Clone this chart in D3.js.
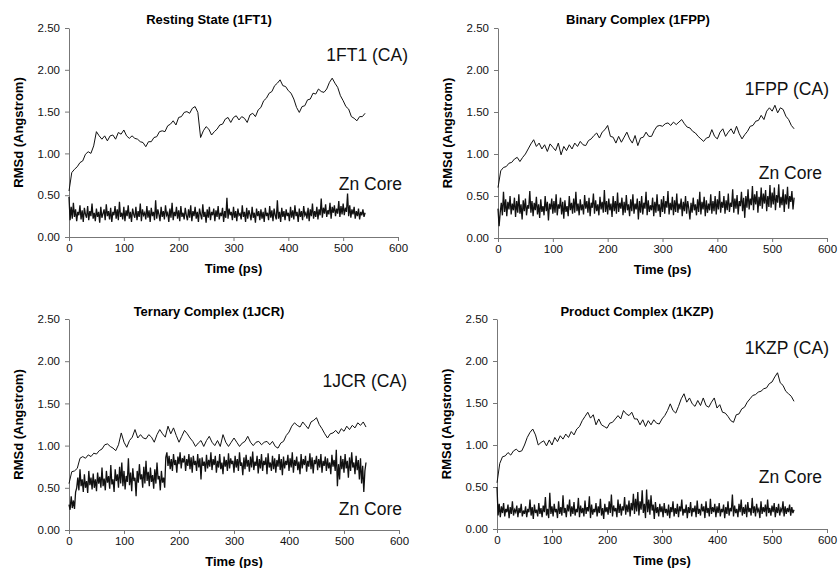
<!DOCTYPE html>
<html>
<head>
<meta charset="utf-8">
<script src="https://cdn.jsdelivr.net/npm/d3@7"></script>
<style>
  body { margin: 0; background: #fff; }
  svg { display: block; }
  text { font-family: Arial, "Liberation Sans", sans-serif; fill: #000; }
  .axis path, .axis line { stroke: #777; }
  .axis text { font-size: 11.5px; fill: #111; }
  .title, .axlabel { font-size: 13px; font-weight: bold; }
  .tag { font-size: 17.5px; fill: #111; }
</style>
</head>
<body>
<div id="chart"></div>
<script>
// ---- data (RMSd in Angstrom) ----
const yTicks = [0, 0.5, 1.0, 1.5, 2.0, 2.5];
const xTicks = [0, 100, 200, 300, 400, 500, 600];
const panelTitles = ["Resting State (1FT1)", "Binary Complex (1FPP)", "Ternary Complex (1JCR)", "Product Complex (1KZP)"];
const caLabels = ["1FT1 (CA)", "1FPP (CA)", "1JCR (CA)", "1KZP (CA)"];
const znLabel = "Zn Core";

const caStep = 5;   // ps between CA samples (0..540)
const znStep = 2;   // ps between Zn core samples (0..540)

// one row = 50 ps
const ca1FT1 = [
  0.55, 0.77, 0.81, 0.84, 0.89, 0.91, 0.99, 1.02, 1.0, 1.09,
  1.26, 1.21, 1.17, 1.21, 1.15, 1.21, 1.22, 1.17, 1.25, 1.23,
  1.28, 1.21, 1.18, 1.21, 1.18, 1.17, 1.14, 1.13, 1.08, 1.14,
  1.14, 1.19, 1.2, 1.26, 1.27, 1.26, 1.33, 1.35, 1.39, 1.34,
  1.43, 1.44, 1.49, 1.5, 1.48, 1.54, 1.56, 1.49, 1.19, 1.27,
  1.32, 1.29, 1.22, 1.26, 1.29, 1.34, 1.35, 1.41, 1.43, 1.37,
  1.43, 1.45, 1.4, 1.44, 1.42, 1.37, 1.46, 1.48, 1.44, 1.52,
  1.55, 1.63, 1.66, 1.72, 1.74, 1.81, 1.84, 1.88, 1.81, 1.8,
  1.75, 1.72, 1.65, 1.55, 1.49, 1.56, 1.57, 1.64, 1.65, 1.72,
  1.71, 1.77, 1.74, 1.73, 1.77, 1.85, 1.9, 1.84, 1.79, 1.69,
  1.63, 1.56, 1.53, 1.44, 1.42, 1.39, 1.44, 1.44, 1.48];
const ca1FPP = [
  0.6, 0.8, 0.84, 0.85, 0.89, 0.9, 0.94, 0.96, 0.91, 0.96,
  1.0, 1.06, 1.12, 1.17, 1.09, 1.13, 1.06, 1.11, 1.03, 1.12,
  1.08, 1.04, 1.13, 0.99, 1.09, 1.04, 1.11, 1.06, 1.13, 1.09,
  1.15, 1.11, 1.1, 1.16, 1.18, 1.22, 1.25, 1.19, 1.26, 1.29,
  1.34, 1.21, 1.2, 1.13, 1.21, 1.14, 1.2, 1.26, 1.18, 1.13,
  1.22, 1.1, 1.19, 1.2, 1.26, 1.21, 1.21, 1.28, 1.33, 1.34,
  1.33, 1.36, 1.37, 1.34, 1.38, 1.35, 1.38, 1.41, 1.36, 1.32,
  1.31, 1.27, 1.25, 1.21, 1.18, 1.15, 1.19, 1.2, 1.29, 1.21,
  1.18, 1.26, 1.3, 1.21, 1.26, 1.3, 1.24, 1.33, 1.24, 1.18,
  1.23, 1.27, 1.33, 1.34, 1.39, 1.4, 1.46, 1.41, 1.51, 1.55,
  1.51, 1.58, 1.49, 1.55, 1.53, 1.45, 1.41, 1.34, 1.3];
const ca1JCR = [
  0.55, 0.69, 0.7, 0.73, 0.85, 0.87, 0.85, 0.89, 0.87, 0.91,
  0.9, 0.94, 0.96, 1.01, 1.02, 0.99, 0.97, 0.94, 1.01, 1.15,
  1.04, 0.98, 1.06, 1.1, 1.19, 1.09, 1.13, 1.09, 1.08, 1.13,
  1.1, 1.04, 1.13, 1.19, 1.14, 1.1, 1.23, 1.14, 1.21, 1.12,
  1.04, 1.11, 1.18, 1.14, 1.09, 1.05, 0.99, 1.03, 1.06, 0.99,
  1.06, 1.11, 1.04, 1.0, 1.06, 0.99, 1.13, 1.04, 0.99, 1.04,
  1.09, 1.04, 0.99, 1.03, 1.05, 1.11, 1.04, 1.0, 1.04, 1.05,
  1.01, 1.04, 1.05, 1.01, 1.05, 0.99, 0.97, 1.03, 1.05, 1.12,
  1.16, 1.23, 1.27, 1.24, 1.22, 1.28, 1.24, 1.2, 1.28, 1.3,
  1.33, 1.25, 1.2, 1.14, 1.09, 1.14, 1.15, 1.18, 1.14, 1.2,
  1.17, 1.23, 1.19, 1.24, 1.21, 1.27, 1.24, 1.28, 1.22];
const ca1KZP = [
  0.55, 0.78, 0.86, 0.87, 0.91, 0.88, 0.93, 0.95, 0.92, 0.93,
  1.0, 1.09, 1.15, 1.19, 1.12, 1.0, 1.03, 1.05, 0.99, 1.06,
  1.0, 1.09, 1.04, 1.11, 1.07, 1.13, 1.09, 1.16, 1.12, 1.19,
  1.22, 1.29, 1.34, 1.39, 1.32, 1.36, 1.24, 1.31, 1.24, 1.22,
  1.2, 1.26, 1.27, 1.31, 1.35, 1.31, 1.41, 1.37, 1.35, 1.39,
  1.31, 1.31, 1.24, 1.3, 1.22, 1.29, 1.24, 1.3, 1.26, 1.25,
  1.31, 1.35, 1.41, 1.49, 1.41, 1.38, 1.46, 1.55, 1.61, 1.51,
  1.56, 1.49, 1.46, 1.53, 1.47, 1.56, 1.47, 1.45, 1.51, 1.56,
  1.44, 1.48, 1.39, 1.38, 1.34, 1.29, 1.27, 1.36, 1.37, 1.43,
  1.45, 1.51, 1.55, 1.59, 1.6, 1.63, 1.64, 1.67, 1.68, 1.73,
  1.75, 1.81, 1.86, 1.74, 1.71, 1.64, 1.61, 1.58, 1.52];

const zn1FT1 = [
  0.48, 0.2, 0.36, 0.22, 0.41, 0.24, 0.33, 0.19, 0.3, 0.26, 0.38, 0.21, 0.32, 0.18, 0.35, 0.27, 0.23, 0.37, 0.2, 0.31, 0.25, 0.4, 0.22, 0.29, 0.19,
  0.34, 0.24, 0.3, 0.17, 0.36, 0.23, 0.28, 0.33, 0.2, 0.39, 0.25, 0.31, 0.21, 0.35, 0.18, 0.3, 0.26, 0.37, 0.22, 0.33, 0.2, 0.42, 0.24, 0.29, 0.21,
  0.36, 0.19, 0.32, 0.25, 0.38, 0.22, 0.3, 0.18, 0.34, 0.27, 0.23, 0.36, 0.2, 0.31, 0.24, 0.4, 0.19, 0.33, 0.26, 0.29, 0.21, 0.37, 0.23, 0.32, 0.18,
  0.35, 0.25, 0.3, 0.2, 0.44, 0.22, 0.33, 0.27, 0.19, 0.36, 0.24, 0.31, 0.21, 0.38, 0.26, 0.29, 0.18, 0.34, 0.23, 0.41, 0.2, 0.3, 0.25, 0.36, 0.22,
  0.32, 0.19, 0.37, 0.24, 0.29, 0.21, 0.35, 0.26, 0.2, 0.33, 0.23, 0.38, 0.19, 0.31, 0.25, 0.36, 0.22, 0.3, 0.18, 0.34, 0.27, 0.21, 0.39, 0.24, 0.3,
  0.17, 0.33, 0.23, 0.36, 0.2, 0.3, 0.26, 0.34, 0.19, 0.32, 0.24, 0.37, 0.21, 0.29, 0.25, 0.35, 0.18, 0.31, 0.23, 0.47, 0.22, 0.34, 0.26, 0.3, 0.2,
  0.36, 0.23, 0.31, 0.19, 0.34, 0.26, 0.28, 0.21, 0.38, 0.24, 0.3, 0.18, 0.35, 0.22, 0.32, 0.27, 0.2, 0.36, 0.23, 0.29, 0.17, 0.34, 0.25, 0.31, 0.2,
  0.33, 0.22, 0.3, 0.18, 0.35, 0.25, 0.29, 0.2, 0.37, 0.23, 0.32, 0.19, 0.34, 0.26, 0.21, 0.44, 0.22, 0.3, 0.18, 0.35, 0.24, 0.31, 0.2, 0.33, 0.25,
  0.29, 0.19, 0.36, 0.23, 0.32, 0.21, 0.38, 0.25, 0.3, 0.18, 0.34, 0.24, 0.31, 0.2, 0.37, 0.26, 0.29, 0.22, 0.35, 0.19, 0.33, 0.25, 0.4, 0.22, 0.31,
  0.24, 0.36, 0.21, 0.33, 0.26, 0.46, 0.23, 0.35, 0.28, 0.39, 0.24, 0.32, 0.27, 0.41, 0.22, 0.36, 0.29, 0.38, 0.25, 0.34, 0.28, 0.43, 0.24, 0.37, 0.27,
  0.4, 0.26, 0.35, 0.3, 0.52, 0.25, 0.38, 0.23, 0.33, 0.27, 0.36, 0.22, 0.31, 0.25, 0.34, 0.21, 0.3, 0.26, 0.33, 0.24, 0.29];
const zn1FPP = [
  0.35, 0.14, 0.3, 0.42, 0.27, 0.55, 0.31, 0.46, 0.26, 0.43, 0.34, 0.5, 0.28, 0.41, 0.33, 0.48, 0.25, 0.44, 0.3, 0.52, 0.29, 0.4, 0.22, 0.45, 0.32,
  0.47, 0.27, 0.39, 0.35, 0.56, 0.3, 0.44, 0.26, 0.42, 0.33, 0.49, 0.28, 0.4, 0.24, 0.46, 0.31, 0.38, 0.27, 0.5, 0.32, 0.43, 0.21, 0.41, 0.34, 0.47,
  0.29, 0.44, 0.3, 0.52, 0.27, 0.4, 0.35, 0.48, 0.28, 0.43, 0.23, 0.45, 0.31, 0.38, 0.26, 0.5, 0.33, 0.42, 0.29, 0.47, 0.3, 0.55, 0.32, 0.41, 0.27,
  0.46, 0.33, 0.4, 0.28, 0.51, 0.35, 0.44, 0.3, 0.48, 0.26, 0.42, 0.36, 0.53, 0.29, 0.45, 0.32, 0.4, 0.27, 0.49, 0.34, 0.43, 0.3, 0.57, 0.31, 0.44,
  0.28, 0.47, 0.33, 0.41, 0.25, 0.5, 0.32, 0.44, 0.29, 0.54, 0.31, 0.42, 0.35, 0.48, 0.27, 0.43, 0.3, 0.51, 0.33, 0.4, 0.26, 0.46, 0.32, 0.52, 0.29,
  0.41, 0.34, 0.47, 0.22, 0.44, 0.3, 0.5, 0.28, 0.42, 0.35, 0.55, 0.27, 0.45, 0.31, 0.39, 0.33, 0.48, 0.26, 0.43, 0.3, 0.52, 0.32, 0.4, 0.25, 0.46,
  0.31, 0.5, 0.29, 0.44, 0.36, 0.56, 0.28, 0.42, 0.33, 0.49, 0.27, 0.45, 0.31, 0.53, 0.3, 0.41, 0.34, 0.47, 0.26, 0.43, 0.32, 0.5, 0.29, 0.44, 0.35,
  0.22, 0.42, 0.3, 0.48, 0.33, 0.4, 0.27, 0.46, 0.31, 0.55, 0.28, 0.43, 0.34, 0.49, 0.26, 0.45, 0.3, 0.41, 0.33, 0.52, 0.29, 0.44, 0.32, 0.5, 0.28,
  0.46, 0.34, 0.56, 0.3, 0.43, 0.36, 0.5, 0.29, 0.45, 0.33, 0.53, 0.31, 0.42, 0.37, 0.58, 0.3, 0.47, 0.35, 0.51, 0.28, 0.44, 0.38, 0.55, 0.32, 0.48,
  0.24, 0.5, 0.36, 0.58, 0.34, 0.47, 0.39, 0.62, 0.33, 0.52, 0.4, 0.56, 0.3, 0.49, 0.38, 0.6, 0.35, 0.53, 0.41, 0.57, 0.32, 0.5, 0.37, 0.63, 0.36,
  0.54, 0.4, 0.6, 0.33, 0.51, 0.42, 0.64, 0.36, 0.49, 0.39, 0.58, 0.31, 0.52, 0.4, 0.61, 0.35, 0.5, 0.43, 0.56, 0.34, 0.48];
const zn1JCR = [
  0.3, 0.24, 0.4, 0.26, 0.35, 0.25, 0.45, 0.5, 0.62, 0.47, 0.72, 0.52, 0.6, 0.45, 0.66, 0.5, 0.58, 0.44, 0.7, 0.53, 0.62, 0.48, 0.67, 0.5, 0.6,
  0.46, 0.68, 0.55, 0.63, 0.5, 0.74, 0.52, 0.61, 0.47, 0.7, 0.56, 0.64, 0.49, 0.77, 0.54, 0.6, 0.45, 0.72, 0.58, 0.66, 0.5, 0.75, 0.55, 0.8, 0.52,
  0.7, 0.48, 0.64, 0.57, 0.85, 0.53, 0.68, 0.46, 0.73, 0.58, 0.62, 0.4, 0.7, 0.56, 0.78, 0.6, 0.66, 0.5, 0.75, 0.55, 0.82, 0.58, 0.69, 0.52, 0.74,
  0.57, 0.65, 0.49, 0.72, 0.55, 0.8, 0.6, 0.64, 0.47, 0.7, 0.56, 0.62, 0.5, 0.86, 0.92, 0.76, 0.88, 0.72, 0.84, 0.7, 0.9, 0.77, 0.83, 0.68, 0.87,
  0.78, 0.92, 0.73, 0.85, 0.8, 0.88, 0.7, 0.84, 0.76, 0.9, 0.72, 0.86, 0.68, 0.88, 0.77, 0.82, 0.7, 0.9, 0.74, 0.85, 0.6, 0.86, 0.76, 0.81, 0.69,
  0.89, 0.73, 0.83, 0.75, 0.92, 0.71, 0.84, 0.77, 0.88, 0.68, 0.82, 0.74, 0.9, 0.72, 0.8, 0.66, 0.87, 0.75, 0.83, 0.7, 0.91, 0.73, 0.85, 0.78, 0.82,
  0.68, 0.88, 0.74, 0.84, 0.7, 0.92, 0.76, 0.8, 0.65, 0.86, 0.72, 0.89, 0.75, 0.83, 0.69, 0.87, 0.74, 0.93, 0.71, 0.81, 0.76, 0.88, 0.67, 0.84, 0.73,
  0.9, 0.7, 0.82, 0.77, 0.86, 0.66, 0.91, 0.74, 0.8, 0.7, 0.88, 0.72, 0.85, 0.68, 0.83, 0.75, 0.9, 0.71, 0.84, 0.65, 0.87, 0.73, 0.82, 0.77, 0.89,
  0.7, 0.85, 0.74, 0.92, 0.68, 0.83, 0.76, 0.87, 0.71, 0.81, 0.66, 0.9, 0.73, 0.84, 0.77, 0.88, 0.69, 0.82, 0.75, 0.91, 0.72, 0.86, 0.67, 0.83, 0.78,
  0.88, 0.71, 0.84, 0.74, 0.9, 0.68, 0.82, 0.76, 0.87, 0.7, 0.85, 0.73, 0.8, 0.66, 0.89, 0.75, 0.83, 0.7, 0.95, 0.52, 0.78, 0.6, 0.88, 0.72, 0.84,
  0.68, 0.9, 0.73, 0.82, 0.62, 0.86, 0.7, 0.92, 0.74, 0.8, 0.66, 0.88, 0.71, 0.83, 0.6, 0.85, 0.55, 0.76, 0.45, 0.7, 0.8];
const zn1KZP = [
  0.5, 0.16, 0.3, 0.14, 0.27, 0.19, 0.31, 0.15, 0.24, 0.2, 0.29, 0.13, 0.26, 0.18, 0.33, 0.16, 0.23, 0.2, 0.28, 0.14, 0.25, 0.19, 0.3, 0.15, 0.22,
  0.18, 0.27, 0.14, 0.24, 0.2, 0.35, 0.16, 0.26, 0.12, 0.29, 0.19, 0.23, 0.15, 0.31, 0.18, 0.25, 0.14, 0.28, 0.2, 0.38, 0.16, 0.24, 0.13, 0.43, 0.18,
  0.27, 0.15, 0.3, 0.2, 0.24, 0.13, 0.33, 0.18, 0.26, 0.16, 0.4, 0.19, 0.25, 0.14, 0.29, 0.21, 0.35, 0.15, 0.27, 0.18, 0.32, 0.16, 0.24, 0.2, 0.37,
  0.14, 0.28, 0.19, 0.25, 0.15, 0.34, 0.18, 0.26, 0.21, 0.39, 0.13, 0.29, 0.17, 0.24, 0.2, 0.31, 0.15, 0.27, 0.19, 0.36, 0.16, 0.25, 0.12, 0.3, 0.2,
  0.26, 0.17, 0.33, 0.19, 0.41, 0.15, 0.28, 0.21, 0.25, 0.14, 0.35, 0.19, 0.3, 0.16, 0.27, 0.22, 0.38, 0.17, 0.29, 0.2, 0.34, 0.15, 0.31, 0.22, 0.42,
  0.18, 0.36, 0.21, 0.44, 0.16, 0.33, 0.23, 0.46, 0.19, 0.3, 0.13, 0.47, 0.2, 0.35, 0.17, 0.4, 0.22, 0.29, 0.12, 0.32, 0.19, 0.26, 0.15, 0.3, 0.2,
  0.27, 0.14, 0.31, 0.19, 0.24, 0.16, 0.29, 0.13, 0.26, 0.2, 0.33, 0.15, 0.25, 0.18, 0.3, 0.14, 0.27, 0.21, 0.35, 0.16, 0.24, 0.19, 0.29, 0.13, 0.26,
  0.19, 0.32, 0.15, 0.25, 0.2, 0.28, 0.14, 0.34, 0.18, 0.24, 0.16, 0.3, 0.21, 0.27, 0.13, 0.33, 0.19, 0.25, 0.15, 0.36, 0.18, 0.26, 0.2, 0.3, 0.14,
  0.27, 0.19, 0.31, 0.15, 0.24, 0.2, 0.29, 0.13, 0.26, 0.18, 0.33, 0.16, 0.25, 0.21, 0.41, 0.15, 0.28, 0.19, 0.24, 0.14, 0.3, 0.2, 0.35, 0.16, 0.26,
  0.18, 0.29, 0.14, 0.32, 0.2, 0.25, 0.16, 0.37, 0.19, 0.27, 0.15, 0.3, 0.21, 0.24, 0.13, 0.33, 0.18, 0.26, 0.2, 0.29, 0.15, 0.35, 0.19, 0.25, 0.16,
  0.28, 0.2, 0.31, 0.14, 0.26, 0.19, 0.3, 0.16, 0.24, 0.21, 0.33, 0.15, 0.27, 0.18, 0.25, 0.2, 0.29, 0.16, 0.26, 0.19, 0.23];

const caSeries = [ca1FT1, ca1FPP, ca1JCR, ca1KZP];
const znSeries = [zn1FT1, zn1FPP, zn1JCR, zn1KZP];

// ---- layout (pixel boxes of each plot area, label placement) ----
const panels = [
  { left: 69, right: 398, bottom: 237, top: 28, titleY: 19, caDx: 10, caY: 2.18, znDx: 4, znY: 0.63 },
  { left: 498, right: 827, bottom: 238, top: 28, titleY: 19, caDx: 2, caY: 1.77, znDx: -5, znY: 0.77 },
  { left: 69, right: 399, bottom: 530, top: 319, titleY: 311, caDx: 8, caY: 1.77, znDx: 3, znY: 0.25 },
  { left: 497, right: 827, bottom: 529, top: 319, titleY: 311, caDx: 2, caY: 2.16, znDx: -5, znY: 0.62 }
];

const svg = d3.select("#chart").append("svg")
  .attr("width", 839)
  .attr("height", 568);

panels.forEach((p, k) => {
  const x = d3.scaleLinear().domain([0, 600]).range([p.left, p.right]);
  const y = d3.scaleLinear().domain([0, 2.5]).range([p.bottom, p.top]);
  const g = svg.append("g");

  // AXES
  g.append("g")
    .attr("class", "axis")
    .attr("transform", "translate(0," + p.bottom + ")")
    .call(d3.axisBottom(x).tickValues(xTicks).tickSize(4).tickSizeOuter(0).tickPadding(3).tickFormat(d3.format("d")));

  g.append("g")
    .attr("class", "axis")
    .attr("transform", "translate(" + p.left + ",0)")
    .call(d3.axisLeft(y).tickValues(yTicks).tickSize(4).tickSizeOuter(0).tickPadding(5).tickFormat(d3.format(".2f")));

  // LINES
  const lineCa = d3.line().x((d, i) => x(i * caStep)).y(d => y(d));
  const lineZn = d3.line().x((d, i) => x(i * znStep)).y(d => y(d));

  g.append("path")
    .datum(znSeries[k])
    .attr("d", lineZn)
    .attr("fill", "none")
    .attr("stroke", "#111")
    .attr("stroke-width", 1.3);

  g.append("path")
    .datum(caSeries[k])
    .attr("d", lineCa)
    .attr("fill", "none")
    .attr("stroke", "#111")
    .attr("stroke-width", 1);

  // TEXTS
  g.append("text").attr("class", "title")
    .attr("x", p.left + 140).attr("y", p.titleY).attr("dy", "0.35em")
    .attr("text-anchor", "middle")
    .text(panelTitles[k]);

  g.append("text").attr("class", "axlabel")
    .attr("x", (p.left + p.right) / 2).attr("y", p.bottom + 31).attr("dy", "0.35em")
    .attr("text-anchor", "middle")
    .text("Time (ps)");

  g.append("text").attr("class", "axlabel")
    .attr("transform", "translate(" + (p.left - 51) + "," + ((p.top + p.bottom) / 2) + ") rotate(-90)")
    .attr("dy", "0.35em")
    .attr("text-anchor", "middle")
    .text("RMSd (Angstrom)");

  g.append("text").attr("class", "tag")
    .attr("x", p.right + p.caDx).attr("y", y(p.caY)).attr("dy", "0.35em")
    .attr("text-anchor", "end")
    .text(caLabels[k]);

  g.append("text").attr("class", "tag")
    .attr("x", p.right + p.znDx).attr("y", y(p.znY)).attr("dy", "0.35em")
    .attr("text-anchor", "end")
    .text(znLabel);
});
</script>
</body>
</html>
